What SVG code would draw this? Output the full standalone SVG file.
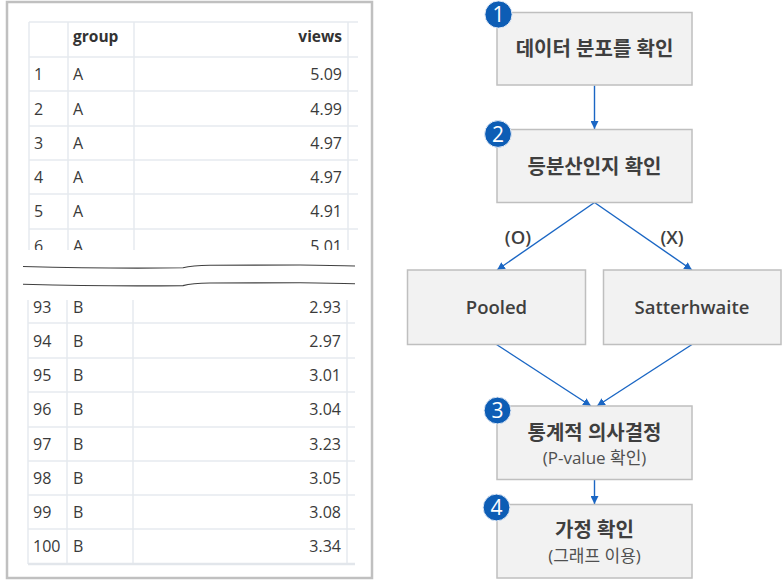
<svg xmlns="http://www.w3.org/2000/svg" width="782" height="580" viewBox="0 0 782 580">
<defs>
<style>
.tb{font-family:"Open Sans","Noto Sans",sans-serif;font-size:16px;fill:#3a3a3a}
.th{font-family:"Open Sans","Noto Sans",sans-serif;font-size:15.5px;font-weight:bold;fill:#333}
.r{text-anchor:end}
.grid{stroke:#e6eaef;stroke-width:1.5;fill:none}
.box{fill:#f2f2f2;stroke:#bfbfbf;stroke-width:1.5}
.bt{font-family:"Open Sans","Noto Sans CJK KR",sans-serif;font-size:20px;font-weight:bold;fill:#3f3f3f;text-anchor:middle}
.bl{font-family:"Open Sans","Noto Sans CJK KR",sans-serif;font-size:18.5px;font-weight:600;fill:#3f3f3f;text-anchor:middle}
.st{font-family:"Open Sans","Noto Sans CJK KR",sans-serif;font-size:17px;fill:#505050;text-anchor:middle}
.badge{fill:#0d5db5;stroke:#dfe8f5;stroke-width:1}
.bn{font-family:"Open Sans","Noto Sans",sans-serif;font-size:21px;fill:#fff;text-anchor:middle}
.conn{stroke:#1a66c4;stroke-width:1.4;fill:none;marker-end:url(#ah)}
.wave{stroke:#404040;stroke-width:1.1;fill:none}
</style>
<marker id="ah" viewBox="0 0 10 10" refX="10" refY="5" markerWidth="8" markerHeight="8" markerUnits="userSpaceOnUse" orient="auto">
<path d="M0,0 L10,5 L0,10 z" fill="#1a66c4"/>
</marker>
<clipPath id="ctop"><rect x="0" y="0" width="380" height="250"/></clipPath>
<clipPath id="cbot"><rect x="0" y="300" width="380" height="280"/></clipPath>
</defs>
<rect x="0" y="0" width="782" height="580" fill="#fff"/>

<g id="table-panel">
<rect x="7" y="2" width="365" height="576" fill="#fff" stroke="#c0c0c0" stroke-width="2.5"/>
<g id="table-top" clip-path="url(#ctop)">
<path class="grid" d="M29,22H358M29,57H358M29,91H358M29,126H358M29,160H358M29,194H358M29,229H358M29,22V250M68,22V250M134,22V250M348,22V250"/>
<text class="th" x="73" y="42">group</text>
<text class="th r" x="342" y="42">views</text>
<text class="tb" x="34" y="80">1</text><text class="tb" x="73" y="80">A</text><text class="tb r" x="342" y="80">5.09</text>
<text class="tb" x="34" y="114.5">2</text><text class="tb" x="73" y="114.5">A</text><text class="tb r" x="342" y="114.5">4.99</text>
<text class="tb" x="34" y="148.5">3</text><text class="tb" x="73" y="148.5">A</text><text class="tb r" x="342" y="148.5">4.97</text>
<text class="tb" x="34" y="183">4</text><text class="tb" x="73" y="183">A</text><text class="tb r" x="342" y="183">4.97</text>
<text class="tb" x="34" y="217">5</text><text class="tb" x="73" y="217">A</text><text class="tb r" x="342" y="217">4.91</text>
<text class="tb" x="34" y="251.5">6</text><text class="tb" x="73" y="251.5">A</text><text class="tb r" x="342" y="251.5">5.01</text>
</g>
<path class="wave" d="M23,266.5 Q110,268.8 183,267.8 Q192,265.6 210,265.2 L300,265 Q335,265.2 355,266"/>
<path class="wave" d="M23,284.3 Q110,286.6 183,285.6 Q192,283.4 210,283 L300,282.8 Q335,283 355,283.8"/>
<g id="table-bottom" clip-path="url(#cbot)">
<path class="grid" d="M28,323H355M28,358H355M28,392H355M28,427H355M28,461H355M28,495H355M28,529H355M28,300V564M67,300V564M133,300V564M347,300V564"/>
<path d="M28,564H355" stroke="#e2e6eb" stroke-width="2.5"/>
<text class="tb" x="33" y="312.5">93</text><text class="tb" x="73" y="312.5">B</text><text class="tb r" x="341" y="312.5">2.93</text>
<text class="tb" x="33" y="346.5">94</text><text class="tb" x="73" y="346.5">B</text><text class="tb r" x="341" y="346.5">2.97</text>
<text class="tb" x="33" y="381">95</text><text class="tb" x="73" y="381">B</text><text class="tb r" x="341" y="381">3.01</text>
<text class="tb" x="33" y="415">96</text><text class="tb" x="73" y="415">B</text><text class="tb r" x="341" y="415">3.04</text>
<text class="tb" x="33" y="449.5">97</text><text class="tb" x="73" y="449.5">B</text><text class="tb r" x="341" y="449.5">3.23</text>
<text class="tb" x="33" y="483.5">98</text><text class="tb" x="73" y="483.5">B</text><text class="tb r" x="341" y="483.5">3.05</text>
<text class="tb" x="33" y="518">99</text><text class="tb" x="73" y="518">B</text><text class="tb r" x="341" y="518">3.08</text>
<text class="tb" x="33" y="552">100</text><text class="tb" x="73" y="552">B</text><text class="tb r" x="341" y="552">3.34</text>
</g>
</g>

<g id="connectors">
<path class="conn" d="M594.5,85.5V129"/>
<path class="conn" d="M594.5,202.5L497,270"/>
<path class="conn" d="M594.5,202.5L692,270"/>
<path class="conn" d="M496.5,344.5L591,406"/>
<path class="conn" d="M692,344.5L597,406"/>
<path class="conn" d="M594.5,479.5V504"/>
<text class="bl" x="518" y="244" font-size="17">(O)</text>
<text class="bl" x="672" y="244" font-size="17">(X)</text>
</g>

<g id="node1">
<rect class="box" x="497" y="12.5" width="195" height="72.5"/>
<text class="bt" x="594.5" y="56">데이터 분포를 확인</text>
<circle class="badge" cx="498.5" cy="14.5" r="13.6"/>
<text class="bn" x="498.5" y="22">1</text>
</g>
<g id="node2">
<rect class="box" x="497" y="129.5" width="195" height="73"/>
<text class="bt" x="594.5" y="173.5">등분산인지 확인</text>
<circle class="badge" cx="498" cy="134" r="13.4"/>
<text class="bn" x="498" y="141.5">2</text>
</g>
<g id="node-pooled">
<rect class="box" x="407.5" y="270" width="178" height="74.5"/>
<text class="bl" x="496.5" y="314">Pooled</text>
</g>
<g id="node-satterhwaite">
<rect class="box" x="603.5" y="270" width="177.5" height="74.5"/>
<text class="bl" x="692" y="314">Satterhwaite</text>
</g>
<g id="node3">
<rect class="box" x="497" y="406" width="195" height="73.5"/>
<text class="bt" x="594.5" y="439.5">통계적 의사결정</text>
<text class="st" x="594.5" y="463.5">(P-value 확인)</text>
<circle class="badge" cx="497.5" cy="410.5" r="13.4"/>
<text class="bn" x="497.5" y="418">3</text>
</g>
<g id="node4">
<rect class="box" x="497" y="504.5" width="195" height="73.5"/>
<text class="bt" x="594.5" y="537">가정 확인</text>
<text class="st" x="594.5" y="561.5">(그래프 이용)</text>
<circle class="badge" cx="496.5" cy="507.5" r="13.4"/>
<text class="bn" x="496.5" y="515">4</text>
</g>
</svg>
